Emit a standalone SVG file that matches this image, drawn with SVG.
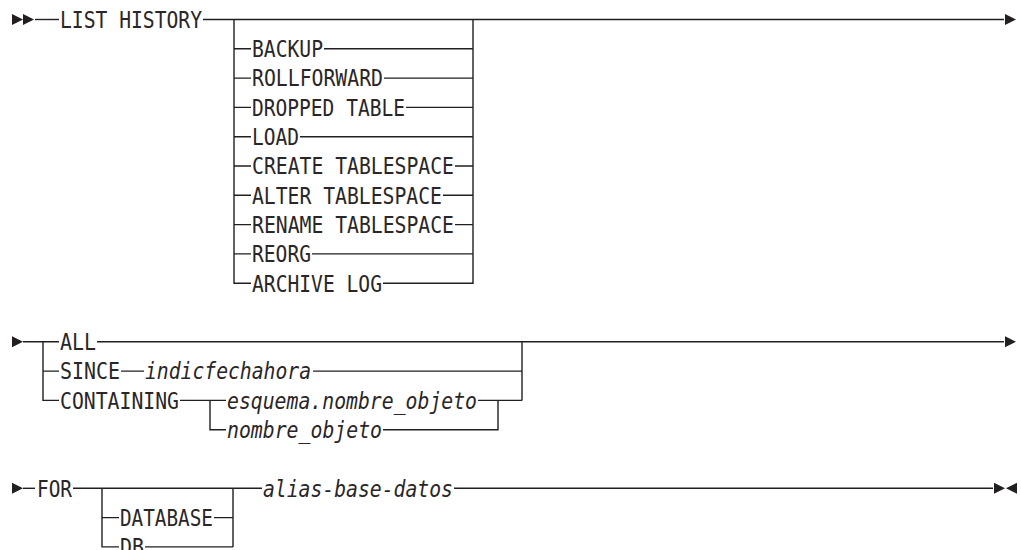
<svg xmlns="http://www.w3.org/2000/svg" width="1021" height="550" viewBox="0 0 1021 550">
<style>
  .t{font-family:"DejaVu Sans Mono","Liberation Mono",monospace;font-size:23px;fill:#2a2627}
  .i{font-style:italic}
  .c path{fill:none;stroke:#231f20;stroke-width:1.4}
  .ah{fill:#231f20}
</style>
<defs>
  <path id="tr" d="M0 -5.5 L11 0 L0 5.5 Z"/>
  <path id="tl" d="M0 -5.5 L-11 0 L0 5.5 Z"/>
</defs>
<rect width="1021" height="550" fill="#fff"/>
<g id="connectors" class="c">
  <path d="M35 19.5 H59"/>
  <path d="M203 19.5 H1004"/>
  <path d="M234 19.5 V283.2 H251"/>
  <path d="M473 19.5 V283.2 H383"/>
  <path d="M234 48.8 H251 M324 48.8 H473"/>
  <path d="M234 78.1 H251 M384 78.1 H473"/>
  <path d="M234 107.4 H251 M406 107.4 H473"/>
  <path d="M234 136.7 H251 M300 136.7 H473"/>
  <path d="M234 166 H251 M455 166 H473"/>
  <path d="M234 195.3 H251 M443 195.3 H473"/>
  <path d="M234 224.6 H251 M455 224.6 H473"/>
  <path d="M234 253.9 H251 M312 253.9 H473"/>
  <path d="M23 341.8 H59"/>
  <path d="M43 341.8 V400.4 H59 M43 371.1 H59"/>
  <path d="M97 341.8 H1004"/>
  <path d="M121 371.1 H144 M313 371.1 H522"/>
  <path d="M180 400.4 H226 M210 400.4 V429.7 H226"/>
  <path d="M478 400.4 H522 M498 400.4 V429.7 H383"/>
  <path d="M522 341.8 V400.4"/>
  <path d="M23 488.3 H35"/>
  <path d="M73 488.3 H262"/>
  <path d="M102 488.3 V546.9 H119 M102 517.6 H119"/>
  <path d="M214 517.6 H233 M145 546.9 H233 M233 488.3 V546.9"/>
  <path d="M454 488.3 H993"/>
  <g class="ah">
    <use href="#tr" x="12" y="19.5"/>
    <use href="#tr" x="23" y="19.5"/>
    <use href="#tr" x="1005" y="19.5"/>
    <use href="#tr" x="12" y="341.8"/>
    <use href="#tr" x="1005" y="341.8"/>
    <use href="#tr" x="12" y="488.3"/>
    <use href="#tr" x="994" y="488.3"/>
    <use href="#tl" x="1017" y="488.3"/>
  </g>
</g>
<g id="n-list-history"><text class="t" x="60" y="27.8" textLength="142" lengthAdjust="spacingAndGlyphs">LIST HISTORY</text></g>
<g id="n-backup"><text class="t" x="252" y="57.1" textLength="71" lengthAdjust="spacingAndGlyphs">BACKUP</text></g>
<g id="n-rollforward"><text class="t" x="252" y="86.4" textLength="131" lengthAdjust="spacingAndGlyphs">ROLLFORWARD</text></g>
<g id="n-dropped-table"><text class="t" x="252" y="115.7" textLength="153" lengthAdjust="spacingAndGlyphs">DROPPED TABLE</text></g>
<g id="n-load"><text class="t" x="252" y="145" textLength="47" lengthAdjust="spacingAndGlyphs">LOAD</text></g>
<g id="n-create-ts"><text class="t" x="252" y="174.3" textLength="202" lengthAdjust="spacingAndGlyphs">CREATE TABLESPACE</text></g>
<g id="n-alter-ts"><text class="t" x="252" y="203.6" textLength="190" lengthAdjust="spacingAndGlyphs">ALTER TABLESPACE</text></g>
<g id="n-rename-ts"><text class="t" x="252" y="232.9" textLength="202" lengthAdjust="spacingAndGlyphs">RENAME TABLESPACE</text></g>
<g id="n-reorg"><text class="t" x="252" y="262.2" textLength="59" lengthAdjust="spacingAndGlyphs">REORG</text></g>
<g id="n-archive-log"><text class="t" x="252" y="291.5" textLength="130" lengthAdjust="spacingAndGlyphs">ARCHIVE LOG</text></g>
<g id="n-all"><text class="t" x="60" y="350.1" textLength="36" lengthAdjust="spacingAndGlyphs">ALL</text></g>
<g id="n-since"><text class="t" x="60" y="379.4" textLength="60" lengthAdjust="spacingAndGlyphs">SINCE</text></g>
<g id="n-indicfechahora"><text class="t i" x="145" y="379.4" textLength="166" lengthAdjust="spacingAndGlyphs">indicfechahora</text></g>
<g id="n-containing"><text class="t" x="60" y="408.7" textLength="119" lengthAdjust="spacingAndGlyphs">CONTAINING</text></g>
<g id="n-esquema"><text class="t i" x="227" y="408.7" textLength="250" lengthAdjust="spacingAndGlyphs">esquema.nombre_objeto</text></g>
<g id="n-nombre-objeto"><text class="t i" x="227" y="438" textLength="155" lengthAdjust="spacingAndGlyphs">nombre_objeto</text></g>
<g id="n-for"><text class="t" x="37" y="496.6" textLength="35" lengthAdjust="spacingAndGlyphs">FOR</text></g>
<g id="n-database"><text class="t" x="120" y="525.9" textLength="93" lengthAdjust="spacingAndGlyphs">DATABASE</text></g>
<g id="n-db"><text class="t" x="120" y="555.2" textLength="24" lengthAdjust="spacingAndGlyphs">DB</text></g>
<g id="n-alias"><text class="t i" x="263" y="496.6" textLength="190" lengthAdjust="spacingAndGlyphs">alias-base-datos</text></g>
</svg>
